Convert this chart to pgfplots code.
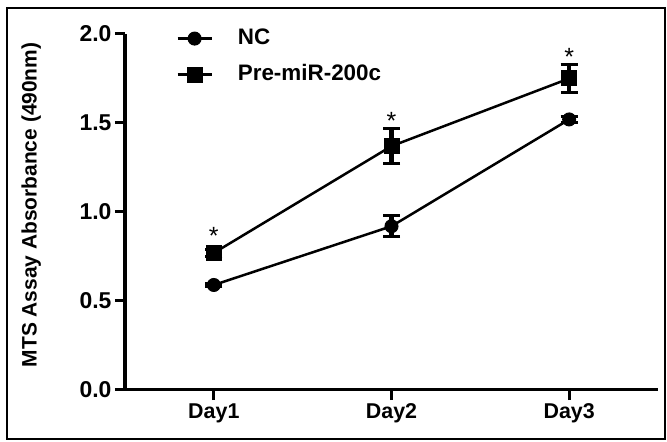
\documentclass[border=0pt]{standalone}
\usepackage{fontspec}
\setmainfont{Liberation Sans}
\usepackage{pgfplots}
\pgfplotsset{compat=1.18}
\begin{document}
\begin{tikzpicture}
\useasboundingbox (0,0) rectangle (667bp,442bp);
\fill[white] (0,0) rectangle (667bp,442bp);
\draw[line width=2bp] (7bp,3bp) rectangle (665bp,434bp);
\begin{axis}[
  at={(125bp,52bp)}, anchor=south west,
  scale only axis, width=533bp, height=356bp,
  xmin=0.5, xmax=3.5, ymin=0, ymax=2,
  clip=false,
  axis lines=left, axis line style={-, line width=3bp},
  xtick={1,2,3}, xticklabels={Day1,Day2,Day3},
  ytick={0,0.5,1,1.5,2},
  /pgf/number format/assume math mode=true,
  xticklabel style={font=\fontsize{21.5}{25}\selectfont\bfseries},
  yticklabel style={font=\fontsize{23}{27}\selectfont\bfseries, /pgf/number format/.cd, fixed, fixed zerofill, precision=1},
  tick align=outside, major tick length=10bp, tick style={line width=3bp, black},
  ylabel={MTS Assay Absorbance (490nm)},
  ylabel style={font=\fontsize{21}{25}\selectfont\bfseries, at={(axis description cs:-0.176,0.52)}, anchor=center},
  legend style={at={(axis description cs:0.096,1.02)}, anchor=north west, draw=none, fill=none,
    font=\fontsize{22.5}{27}\selectfont\bfseries, inner sep=0pt, row sep=13bp, column sep=23bp,
    nodes={inner sep=2bp, text height=15bp, text depth=4bp}},
  legend cell align=left,
  legend image code/.code={\draw[mark repeat=2,mark phase=2,#1] plot coordinates {(0bp,0bp) (17bp,0bp) (34bp,0bp)};},
]
\addplot[black, line width=2.5bp, mark=*, mark size=6.5bp, mark options={solid, fill=black, line width=1bp},
  error bars/.cd, y dir=both, y explicit,
  error mark options={rotate=90, mark size=8.5bp, line width=3bp, black},
  error bar style={line width=4.5bp, black}]
  coordinates {(1,0.59) +- (0,0.01) (2,0.92) +- (0,0.06) (3,1.52) +- (0,0.015)};
\addlegendentry{NC}
\addplot[black, line width=2.5bp, mark=square*, mark size=7.5bp, mark options={solid, fill=black, line width=1bp},
  error bars/.cd, y dir=both, y explicit,
  error mark options={rotate=90, mark size=8.5bp, line width=3bp, black},
  error bar style={line width=4.5bp, black}]
  coordinates {(1,0.77) +- (0,0.02) (2,1.37) +- (0,0.10) (3,1.75) +- (0,0.08)};
\addlegendentry{Pre-miR-200c}
\addplot[draw=none, mark=none, forget plot, nodes near coords={*}, nodes near coords align={center},
  every node near coord/.append style={font=\fontsize{25}{25}\selectfont, anchor=center, yshift=-3bp, inner sep=0pt}]
  coordinates {(1,0.88) (2,1.53) (3,1.89)};
\end{axis}
\end{tikzpicture}
\end{document}
